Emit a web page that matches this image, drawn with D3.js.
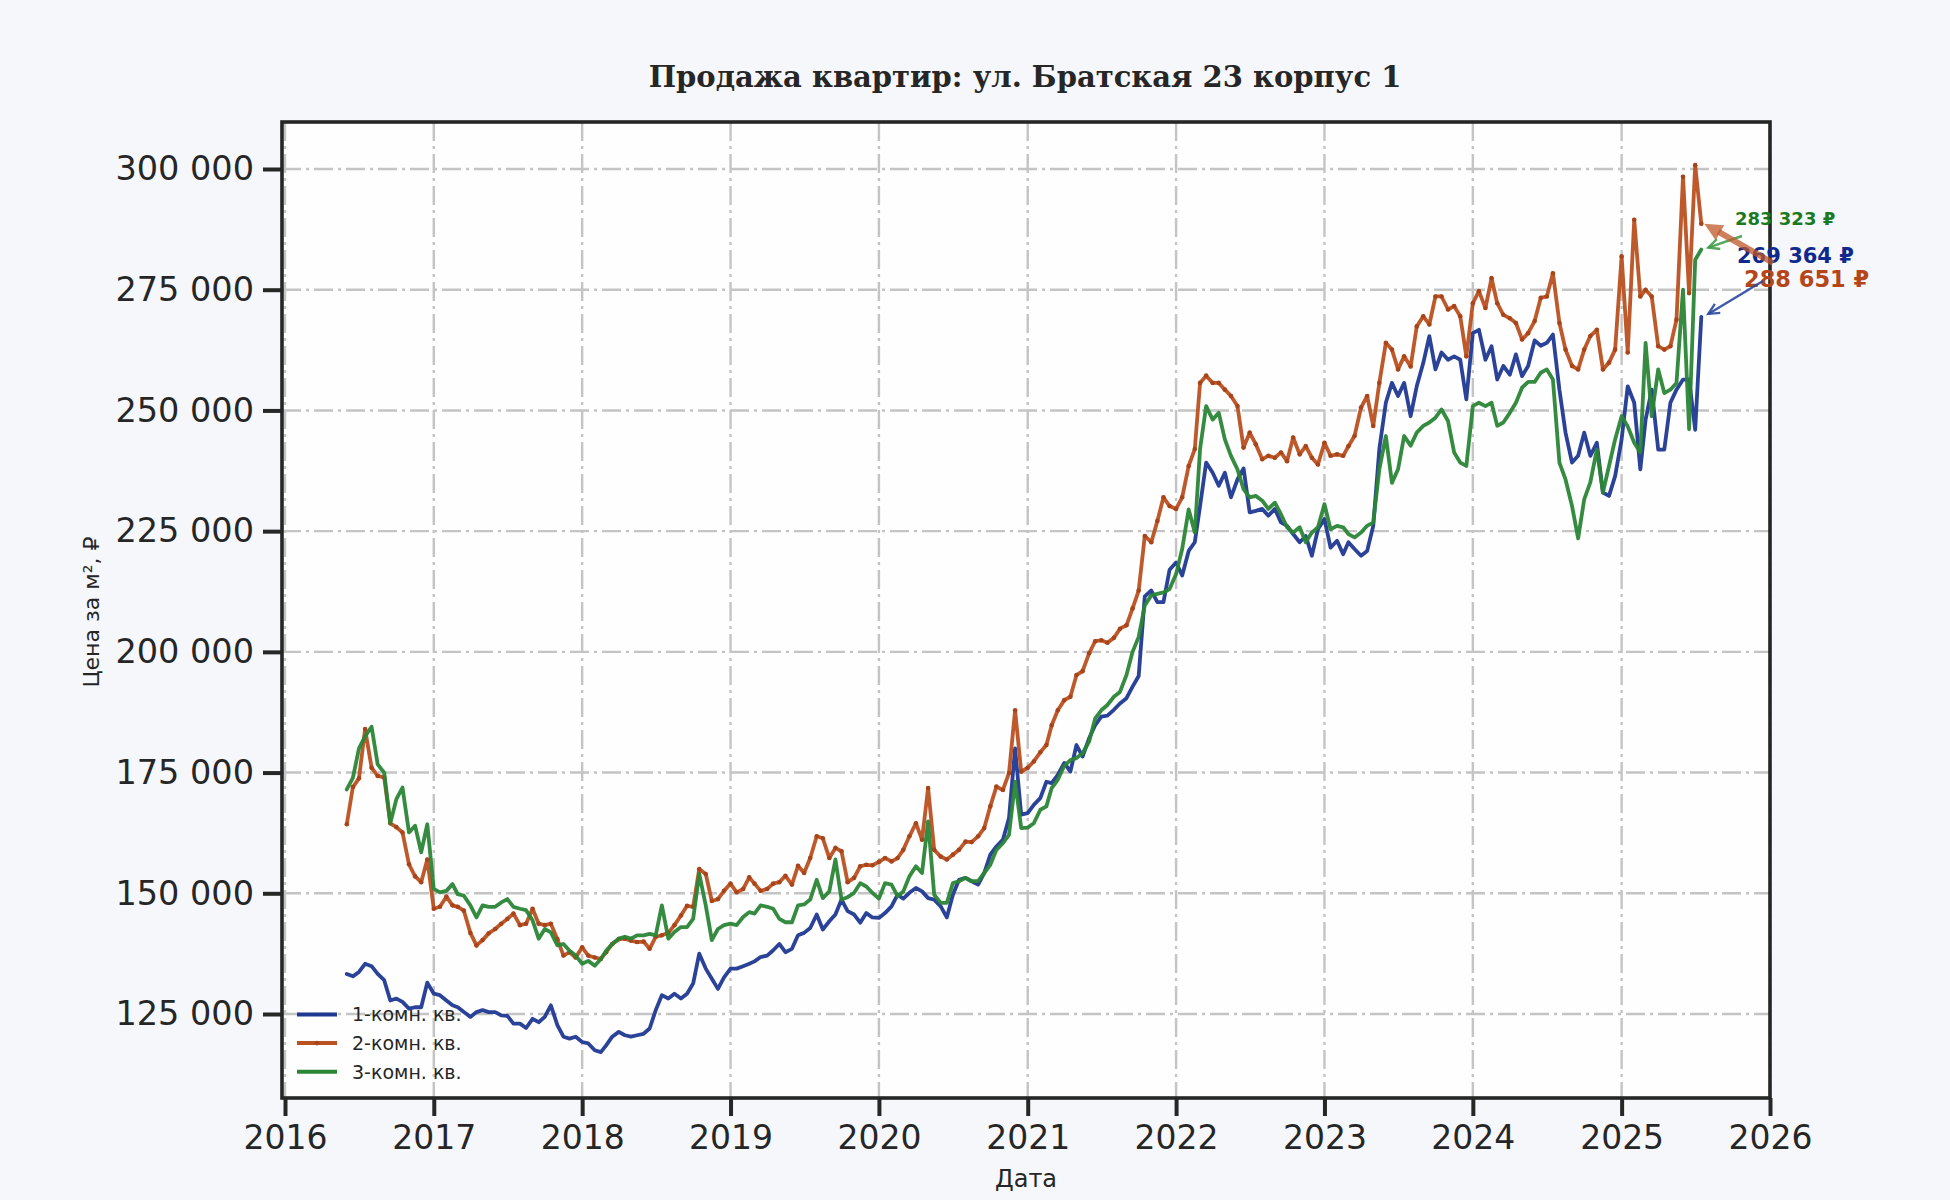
<!DOCTYPE html>
<html>
<head>
<meta charset="utf-8">
<script src="https://cdn.jsdelivr.net/npm/d3@7"></script>
<style>
  html, body { margin: 0; padding: 0; background: #f5f7fb; }
  svg { display: block; }
</style>
</head>
<body>
<svg id="chart" width="1950" height="1200"></svg>
<script>
// ---------------- DATA ----------------
const titleText = "Продажа квартир: ул. Братская 23 корпус 1";
const xLabelText = "Дата";
const yLabelText = "Цена за м², ₽";
const seriesNames = ["1-комн. кв.", "2-комн. кв.", "3-комн. кв."];
const xTickYears = [2016, 2017, 2018, 2019, 2020, 2021, 2022, 2023, 2024, 2025, 2026];
const yTickValues = [125000, 150000, 175000, 200000, 225000, 250000, 275000, 300000];
// observations twice a month (1st and 16th), from June 2016 to July 2025
const firstMonth = [2016, 6];

const oneRoom = [
133300,132800,133700,135400,134900,133300,132000,127800,128200,127500,126100,126400,126400,131500,
129200,128900,127800,126800,126400,125400,124400,125400,125800,125400,125400,124700,124600,123000,
123000,122100,124000,123300,124400,126800,122700,120300,119900,120300,119200,118900,117500,117100,
118500,120300,121300,120600,120300,120600,120900,122000,125800,128900,128200,129200,128200,129200,
131300,137500,134400,132300,130200,132600,134400,134400,134900,135400,135900,136800,137100,138200,
139500,137800,138500,141300,141800,142800,145600,142500,144200,145600,148700,146300,145600,143900,
145900,145000,144900,145900,147300,149700,148900,150100,151100,150400,149000,148700,147300,145000,
149700,152800,153200,152500,151800,154200,158000,159700,161100,165600,180000,166300,166600,168300,
169700,173100,172800,174500,177000,175200,180700,178300,182100,184800,186600,186800,188000,189300,
190400,192800,195000,211500,212700,210300,210300,217000,218500,215800,220900,222700,230200,239200,
237100,234400,237100,232000,235700,238000,228900,229200,229600,228200,229600,226800,226100,224400,
222700,224000,219900,225400,227500,221600,223000,220200,222700,221300,219900,220900,226100,242000,
251600,255700,253000,255700,248800,255000,259800,265400,258500,262000,260500,261200,260500,252300,
266000,266700,260500,263300,256400,259200,257400,261600,257100,259200,264500,263400,264000,265700,
254300,245400,239200,240600,245400,240600,243300,233000,232300,236400,244000,255000,251600,237800,
248100,254300,241900,241900,251600,254300,256400,256400,246000,269364
];

const twoRoom = [
164300,172000,173800,184000,176000,174300,174000,164500,163700,162600,156000,153500,152300,157000,
146800,147200,149300,147500,147200,146400,141800,139200,140300,141700,142600,143700,144700,145800,
143400,143700,146800,143700,143400,143700,140500,137100,137800,136700,138800,137100,136700,136400,
137800,139500,140500,140600,140200,139900,140000,138500,141000,141300,141800,143400,145400,147400,
147200,155000,154000,148400,148800,150500,152000,150200,150900,153300,152000,150500,150900,152000,
152300,153600,151800,155700,154200,157300,161800,161400,157300,159400,158700,152300,153200,155600,
155900,155800,156500,157300,156600,157300,159000,161800,164500,161100,171800,159000,157600,157000,
158000,159000,160700,160600,161800,163500,168000,172100,171400,174900,187900,175200,176000,177300,
179200,180700,184800,187900,190000,190700,195200,196000,199700,202200,202400,201900,202900,204800,
205500,209000,212700,224000,222700,227100,232000,230200,229600,232000,238500,242000,255700,257200,
255700,255700,254300,253000,250900,242300,245400,243000,239900,240600,240200,241300,239500,244400,
240900,242600,240200,238800,243300,240600,240900,240600,242600,244700,250600,253000,246800,255700,
264000,262600,258500,261200,259100,267400,269500,267800,273600,273600,270900,271600,269500,261200,
272200,274700,271200,277400,272200,269800,269100,268100,264700,266000,268500,273300,273600,278400,
268100,262600,259200,258500,262600,265400,266700,258500,259900,262600,281900,262000,289500,273600,
275000,273600,263300,262600,263300,268800,298400,274300,300800,288651
];

const threeRoom = [
171500,173900,180000,182500,184500,176700,175000,164500,169500,171900,162600,164000,158500,164300,
150900,150200,150500,151900,149800,149500,147500,145000,147500,147200,147200,148100,148800,147200,
146800,146500,144400,140600,142600,141900,139200,139500,138100,137100,135400,136000,135000,136400,
138100,139500,140600,141000,140600,141300,141300,141600,141300,147500,140600,142000,143000,143000,
144700,154000,147500,140300,142600,143400,143700,143400,145100,146100,145800,147500,147200,146800,
144700,144000,144000,147500,147700,148700,152800,149000,150400,157000,148700,149200,150100,152100,
151400,150100,148900,152100,151800,149400,150400,153500,155600,154200,164900,149700,148000,148000,
152100,152500,153200,152500,152500,154200,155900,159000,160400,162100,173100,163500,163600,164500,
167300,168000,171800,173500,176400,177600,178000,179000,181400,186200,187900,189000,190700,191700,
195200,200000,203100,209600,211700,212000,212300,213000,216100,221300,229500,224700,242000,250900,
248100,249500,244000,240600,237800,233700,232000,232300,231300,229600,230900,228500,225800,224700,
225800,222700,224700,225800,230600,225400,226100,225800,224400,223700,224700,226100,226800,237800,
244700,235000,237800,244700,242700,245400,246800,247500,248500,250200,247800,241300,239200,238500,
250900,251600,250900,251600,246800,247500,249500,251600,254700,255900,255900,257800,258500,256400,
239200,235700,230200,223500,231600,235100,241900,233000,238500,244000,248800,246700,243300,241300,
264000,248800,258500,253600,254300,255700,275000,246100,281200,283323
];

const seriesValues = [oneRoom, twoRoom, threeRoom];
const seriesColors = ["#1f3892", "#bb5020", "#2a8535"];
const labelColors = ["#0f2a8c", "#b4461a", "#1c7a1e"];

// ---------------- LAYOUT ----------------
const W = 1950, H = 1200;
const plot = { left: 282, right: 1770, top: 122, bottom: 1098 };
const svg = d3.select("#chart").attr("viewBox", `0 0 ${W} ${H}`);
const ink = "#262626";
const fontSans = "'DejaVu Sans', Verdana, sans-serif";

svg.append("rect").attr("width", W).attr("height", H).attr("fill", "#f5f7fb");
svg.append("rect")
  .attr("x", plot.left).attr("y", plot.top)
  .attr("width", plot.right - plot.left).attr("height", plot.bottom - plot.top)
  .attr("fill", "#fefefe");

const dates = oneRoom.map((_, i) =>
  new Date(firstMonth[0], firstMonth[1] - 1 + Math.floor(i / 2), i % 2 ? 16 : 1));

const x = d3.scaleTime()
  .domain([new Date(xTickYears[0], 0, 1), new Date(xTickYears[xTickYears.length - 1], 0, 1)])
  .range([285, 1770]);
const y = d3.scaleLinear()
  .domain([125000, 300000])
  .range([1014, 169]);

const fmt = v => d3.format(",")(v).replace(/,/g, " ");
const xTickDates = xTickYears.map(yy => new Date(yy, 0, 1));

// grid
const grid = svg.append("g").attr("stroke", "#c4c4c4").attr("stroke-width", 2.4)
  .attr("stroke-dasharray", "19,5,3,5").attr("fill", "none");
xTickDates.forEach(d => {
  grid.append("line").attr("x1", x(d)).attr("x2", x(d))
    .attr("y1", plot.top).attr("y2", plot.bottom);
});
yTickValues.forEach(v => {
  grid.append("line").attr("x1", plot.left).attr("x2", plot.right)
    .attr("y1", y(v)).attr("y2", y(v));
});

// clip
svg.append("clipPath").attr("id", "clip").append("rect")
  .attr("x", plot.left).attr("y", plot.top)
  .attr("width", plot.right - plot.left).attr("height", plot.bottom - plot.top);

const line = d3.line().x((d, i) => x(dates[i])).y(d => y(d));
const linesG = svg.append("g").attr("clip-path", "url(#clip)");
seriesValues.forEach((vals, k) => {
  linesG.append("path").datum(vals)
    .attr("d", line)
    .attr("fill", "none")
    .attr("stroke", seriesColors[k])
    .attr("stroke-width", 3.8)
    .attr("stroke-linejoin", "round")
    .attr("stroke-linecap", "round")
    .attr("opacity", 0.95);
  if (k === 1) {
    linesG.append("g").selectAll("circle").data(vals).join("circle")
      .attr("cx", (d, i) => x(dates[i])).attr("cy", d => y(d))
      .attr("r", 2.3).attr("fill", "#a8441a");
  }
});

// axes
const xAxis = d3.axisBottom(x).tickValues(xTickDates).tickFormat(d3.timeFormat("%Y"))
  .tickSize(18).tickPadding(10);
const gx = svg.append("g").attr("transform", `translate(0,${plot.bottom})`).call(xAxis);
gx.select(".domain").remove();
gx.selectAll(".tick line").attr("stroke", ink).attr("stroke-width", 4);
gx.selectAll(".tick text").attr("fill", ink).attr("font-family", fontSans)
  .attr("font-size", 33).attr("dy", "0.71em");

const yAxis = d3.axisLeft(y).tickValues(yTickValues).tickFormat(fmt)
  .tickSize(19).tickPadding(9);
const gy = svg.append("g").attr("transform", `translate(${plot.left},0)`).call(yAxis);
gy.select(".domain").remove();
gy.selectAll(".tick line").attr("stroke", ink).attr("stroke-width", 4);
gy.selectAll(".tick text").attr("fill", ink).attr("font-family", fontSans)
  .attr("font-size", 33.5);

// frame
svg.append("rect")
  .attr("x", plot.left).attr("y", plot.top)
  .attr("width", plot.right - plot.left).attr("height", plot.bottom - plot.top)
  .attr("fill", "none").attr("stroke", ink).attr("stroke-width", 3.6);

// title & labels
svg.append("text").attr("x", 1025).attr("y", 87).attr("text-anchor", "middle")
  .attr("font-family", "'DejaVu Serif', serif").attr("font-weight", "bold")
  .attr("font-size", 29).attr("fill", ink).text(titleText);
svg.append("text").attr("x", 1026).attr("y", 1187).attr("text-anchor", "middle")
  .attr("font-family", fontSans).attr("font-size", 24).attr("fill", ink).text(xLabelText);
svg.append("text").attr("transform", "translate(99,612) rotate(-90)").attr("text-anchor", "middle")
  .attr("font-family", fontSans).attr("font-size", 22).attr("fill", ink).text(yLabelText);

// legend
const legend = svg.append("g");
seriesNames.forEach((name, k) => {
  const ly = 1014.5 + k * 28.6;
  legend.append("line").attr("x1", 297).attr("x2", 337).attr("y1", ly).attr("y2", ly)
    .attr("stroke", seriesColors[k]).attr("stroke-width", 4);
  if (k === 1) legend.append("circle").attr("cx", 317).attr("cy", ly).attr("r", 2.3).attr("fill", "#a8441a");
  legend.append("text").attr("x", 352).attr("y", ly).attr("dy", "0.36em")
    .attr("font-family", fontSans).attr("font-size", 19).attr("fill", ink).text(name);
});

// annotations of the last values
const lastIdx = oneRoom.length - 1;
const lastX = x(dates[lastIdx]);
const ann = svg.append("g");
function arrowHead(g, x1, y1, x2, y2, color, size, width, filled, opacity) {
  const a = Math.atan2(y2 - y1, x2 - x1);
  const p1 = [x2 - size * Math.cos(a - 0.45), y2 - size * Math.sin(a - 0.45)];
  const p2 = [x2 - size * Math.cos(a + 0.45), y2 - size * Math.sin(a + 0.45)];
  if (filled) {
    g.append("path").attr("d", `M${p1}L${x2},${y2}L${p2}Z`).attr("fill", color).attr("opacity", opacity);
  } else {
    g.append("path").attr("d", `M${p1}L${x2},${y2}L${p2}`).attr("fill", "none")
      .attr("stroke", color).attr("stroke-width", width).attr("opacity", opacity);
  }
}
function arrow(x1, y1, x2, y2, color, width, headSize, filled, opacity) {
  const g = ann.append("g");
  const a = Math.atan2(y2 - y1, x2 - x1);
  const ex = filled ? x2 - headSize * 0.8 * Math.cos(a) : x2;
  const ey = filled ? y2 - headSize * 0.8 * Math.sin(a) : y2;
  g.append("line").attr("x1", x1).attr("y1", y1).attr("x2", ex).attr("y2", ey)
    .attr("stroke", color).attr("stroke-width", width).attr("opacity", opacity);
  arrowHead(g, x1, y1, x2, y2, color, headSize, width, filled, opacity);
}

// green label
ann.append("text").attr("x", 1735).attr("y", 225).attr("font-family", fontSans)
  .attr("font-weight", "bold").attr("font-size", 18).attr("fill", labelColors[2])
  .text(fmt(threeRoom[lastIdx]) + " ₽");
arrow(1742, 236, lastX + 7, y(threeRoom[lastIdx]) - 2, "#3a9a44", 2.4, 12, false, 0.85);

// blue label
ann.append("text").attr("x", 1737).attr("y", 263).attr("font-family", fontSans)
  .attr("font-weight", "bold").attr("font-size", 21).attr("fill", labelColors[0])
  .text(fmt(oneRoom[lastIdx]) + " ₽");

// orange arrow (drawn over blue label)
arrow(1773, 263, lastX + 3, y(twoRoom[lastIdx]), "#c0582a", 6, 20, true, 0.75);

// orange label
ann.append("text").attr("x", 1744).attr("y", 287).attr("font-family", fontSans)
  .attr("font-weight", "bold").attr("font-size", 22.5).attr("fill", labelColors[1])
  .text(fmt(twoRoom[lastIdx]) + " ₽");

// blue arrow
arrow(1763, 281, lastX + 7, y(oneRoom[lastIdx]) - 3, "#2b4aa0", 2.4, 12, false, 0.9);
</script>
</body>
</html>
